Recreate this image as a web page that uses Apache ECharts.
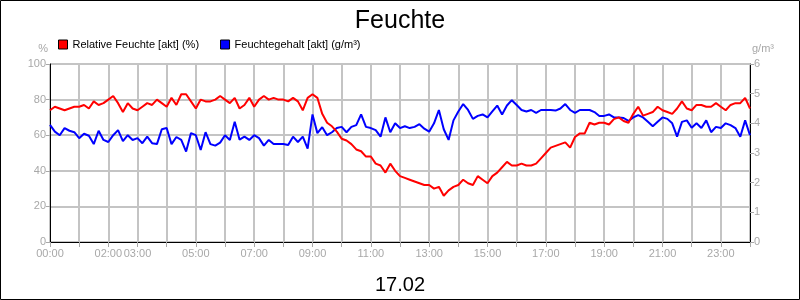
<!DOCTYPE html>
<html>
<head>
<meta charset="utf-8">
<script src="https://cdn.jsdelivr.net/npm/echarts@6/dist/echarts.min.js"></script>
<style>
html,body{margin:0;padding:0;background:#fff;}
#c{width:800px;height:300px;}
</style>
</head>
<body>
<div id="c"></div>
<script>
// 10-minute samples from 00:00 to 24:00 (145 points)
const relFeuchte = [
  74, 76, 75, 74, 75, 76,
  76, 77, 75, 79, 77, 78,
  80, 82, 78, 73, 78, 75,
  74, 76, 78, 77, 80, 78,
  76, 81, 77, 83, 83, 79,
  75, 80, 79, 79, 80, 82,
  80, 78, 81, 75, 77, 81,
  76, 80, 82, 80, 81, 80,
  80, 79, 81, 79, 74, 81,
  83, 81, 72, 67, 65, 62,
  58, 57, 55, 52, 51, 48,
  48, 44, 43, 39, 44, 40,
  37, 36, 35, 34, 33, 32,
  32, 30, 31, 26, 29, 31,
  32, 35, 33, 32, 37, 35,
  33, 37, 39, 42, 45, 43,
  43, 44, 43, 43, 44, 47,
  50, 53, 54, 55, 56, 53,
  59, 61, 61, 67, 66, 67,
  67, 66, 69, 70, 68, 67,
  72, 76, 71, 72, 73, 76,
  74, 73, 72, 75, 79, 75,
  74, 77, 77, 76, 76, 78,
  76, 74, 77, 78, 78, 81,
  75
];
const feuchtegehalt = [
  3.95, 3.72, 3.6, 3.84, 3.75, 3.7,
  3.5, 3.65, 3.58, 3.3, 3.75, 3.44,
  3.37, 3.6, 3.77, 3.4, 3.6, 3.44,
  3.5, 3.33, 3.55, 3.33, 3.3, 3.8,
  3.84, 3.3, 3.54, 3.44, 3.05, 3.67,
  3.6, 3.1, 3.7, 3.3, 3.25, 3.35,
  3.6, 3.44, 4.05, 3.45, 3.55, 3.44,
  3.6, 3.5, 3.25, 3.44, 3.3, 3.3,
  3.3, 3.27, 3.55, 3.37, 3.55, 3.15,
  4.3, 3.67, 3.87, 3.6, 3.7, 3.84,
  3.88, 3.7, 3.88, 3.94, 4.3, 3.88,
  3.84, 3.77, 3.55, 4.2, 3.7, 4.0,
  3.84, 3.9, 3.84, 3.88, 3.97, 3.82,
  3.72, 4.0, 4.45, 3.8, 3.44, 4.1,
  4.4, 4.65, 4.45, 4.15, 4.25, 4.3,
  4.2, 4.4, 4.6, 4.3, 4.6, 4.78,
  4.62, 4.45, 4.4, 4.45, 4.35, 4.45,
  4.45, 4.45, 4.43, 4.5, 4.65, 4.45,
  4.35, 4.45, 4.45, 4.45, 4.38, 4.25,
  4.25, 4.3, 4.2, 4.2, 4.18, 4.08,
  4.2, 4.28, 4.2, 4.05, 3.9, 4.05,
  4.2, 4.15, 4.0, 3.55, 4.05, 4.1,
  3.85, 4.0, 3.84, 4.1, 3.7, 3.88,
  3.84, 4.0, 3.94, 3.84, 3.55, 4.1,
  3.6
];
const labelHours = [0, 2, 3, 5, 7, 9, 11, 13, 15, 17, 19, 21, 23];
const seriesNames = ['Relative Feuchte [akt] (%)', 'Feuchtegehalt [akt] (g/m³)'];
const titleText = 'Feuchte';
const dateText = '17.02';

const stepHours = 1 / 6;
const redData = relFeuchte.map((v, i) => [i * stepHours, v]);
const blueData = feuchtegehalt.map((v, i) => [i * stepHours, v]);

const gray = '#a8a8a8';
const gridGray = '#c4c4c4';
const font = 'Liberation Sans, Arial, sans-serif';

const chart = echarts.init(document.getElementById('c'), null, {renderer: 'canvas'});
chart.setOption({
  animation: false,
  backgroundColor: '#fff',
  title: {
    text: titleText, left: 'center', top: 4,
    textStyle: {fontFamily: font, fontSize: 25, fontWeight: 'normal', color: '#000'}
  },
  legend: {
    left: 58, top: 39, padding: 0, itemWidth: 9, itemHeight: 9, itemGap: 21,
    icon: 'rect',
    textStyle: {fontFamily: font, fontSize: 11, color: '#000'},
    data: [
      {name: seriesNames[0], itemStyle: {color: '#ff0000', borderColor: '#000', borderWidth: 1}},
      {name: seriesNames[1], itemStyle: {color: '#0000ff', borderColor: '#000', borderWidth: 1}}
    ]
  },
  graphic: [{
    type: 'rect', shape: {x: 0.5, y: 0.5, width: 799, height: 299},
    style: {fill: 'none', stroke: '#000', lineWidth: 1}, silent: true, z: 100
  }],
  grid: {left: 50, right: 50, top: 64, bottom: 58, show: true, borderColor: '#000', borderWidth: 1, backgroundColor: 'transparent'},
  xAxis: {
    type: 'value', min: 0, max: 24, interval: 1,
    name: dateText, nameLocation: 'middle', nameGap: 33,
    nameTextStyle: {fontFamily: font, fontSize: 20, color: '#000'},
    axisLine: {show: true, lineStyle: {color: '#000', width: 1}},
    axisTick: {show: true, length: 5, lineStyle: {color: gray}},
    axisLabel: {
      color: gray, fontFamily: font, fontSize: 11, margin: 6, showMinLabel: true, showMaxLabel: true,
      formatter: function (v) {
        const h = Math.round(v);
        if (labelHours.indexOf(h) < 0 || Math.abs(v - h) > 1e-6) return '';
        return (h < 10 ? '0' + h : '' + h) + ':00';
      }
    },
    splitLine: {show: true, lineStyle: {color: gridGray, width: 2}}
  },
  yAxis: [{
    type: 'value', min: 0, max: 100, interval: 20, position: 'left',
    name: '%', nameLocation: 'end', nameGap: 10,
    nameTextStyle: {fontFamily: font, fontSize: 11, color: gray, align: 'right', padding: [0, 2, 0, 0]},
    axisLine: {show: true, lineStyle: {color: '#000', width: 1}},
    axisTick: {show: true, length: 4, lineStyle: {color: gray}},
    axisLabel: {color: gray, fontFamily: font, fontSize: 11, margin: 4},
    splitLine: {show: true, lineStyle: {color: gridGray, width: 2}}
  }, {
    type: 'value', min: 0, max: 6, interval: 1, position: 'right',
    name: 'g/m³', nameLocation: 'end', nameGap: 10,
    nameTextStyle: {fontFamily: font, fontSize: 11, color: gray, align: 'left', padding: [0, 0, 0, 2]},
    axisLine: {show: true, lineStyle: {color: '#000', width: 1}},
    axisTick: {show: true, length: 4, lineStyle: {color: gray}},
    axisLabel: {color: gray, fontFamily: font, fontSize: 11, margin: 4},
    splitLine: {show: false}
  }],
  series: [{
    name: seriesNames[1], type: 'line', yAxisIndex: 1, data: blueData,
    showSymbol: false, symbol: 'none', color: '#0000ff',
    lineStyle: {color: '#0000ff', width: 2}
  }, {
    name: seriesNames[0], type: 'line', yAxisIndex: 0, data: redData,
    showSymbol: false, symbol: 'none', color: '#ff0000',
    lineStyle: {color: '#ff0000', width: 2}
  }]
});
</script>
</body>
</html>
